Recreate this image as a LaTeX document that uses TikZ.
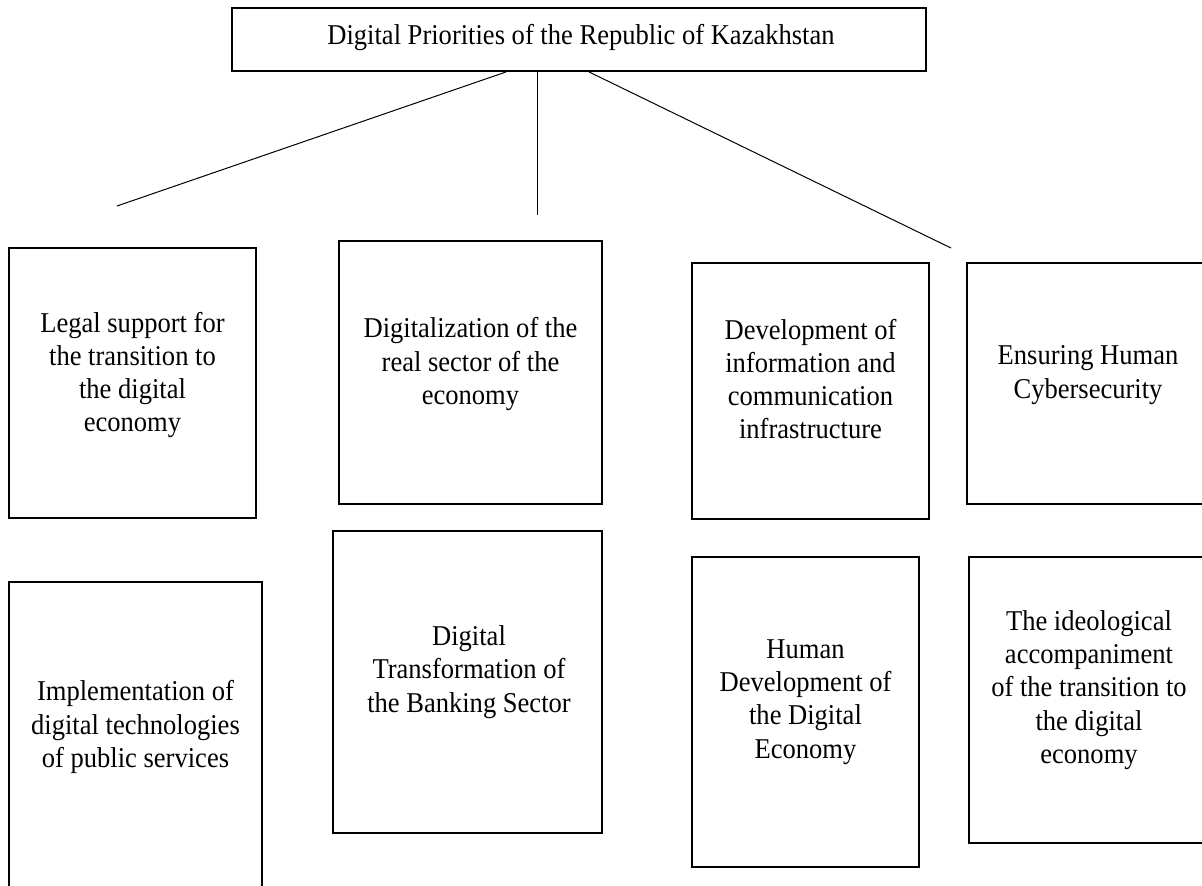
\documentclass[tikz,border=0pt]{standalone}
\usepackage{fontspec}
\setmainfont[FakeStretch=0.925]{Liberation Serif}
\usetikzlibrary{calc}
\tikzset{
  frame/.style={draw, rectangle, line width=1.9pt, inner sep=0pt},
  conn/.style={draw, line width=1pt},
  lbl/.style={align=center, inner sep=0pt, font=\fontsize{28.7}{33.3}\selectfont},
}
\begin{document}
\begin{tikzpicture}[x=1pt,y=-1pt]
\useasboundingbox (0,0) rectangle (1202,886);
\clip (0,0) rectangle (1202,886);
% top box
\node[frame, minimum width=694pt, minimum height=63pt] (top) at (579,39.5) {};
\node[lbl] (ttop) at (581,37) {Digital Priorities of the Republic of Kazakhstan};
% boxes
\node[frame, minimum width=247pt, minimum height=270pt] (b1) at (132.5,383) {};
\node[frame, minimum width=263pt, minimum height=263pt] (b2) at (470.5,372.5) {};
\node[frame, minimum width=237pt, minimum height=256pt] (b3) at (810.5,391) {};
\node[frame, minimum width=242pt, minimum height=241pt] (b4) at (1088,383.5) {};
\node[frame, minimum width=253pt, minimum height=310pt] (b5) at (135.5,737) {};
\node[frame, minimum width=269pt, minimum height=302pt] (b6) at (467.5,682) {};
\node[frame, minimum width=227pt, minimum height=310pt] (b7) at (805.5,712) {};
\node[frame, minimum width=240pt, minimum height=286pt] (b8) at (1089,700) {};
% texts
\node[lbl] (t1) at (132.5,375) {Legal support for\\the transition to\\the digital\\economy};
\node[lbl] (t2) at (470.5,364) {Digitalization of the\\real sector of the\\economy};
\node[lbl] (t3) at (810.5,379) {Development of\\information and\\communication\\infrastructure};
\node[lbl] (t4) at (1088,375) {Ensuring Human\\Cybersecurity};
\node[lbl] (t5) at (135.5,727) {Implementation of\\digital technologies\\of public services};
\node[lbl] (t6) at (469,672) {Digital\\Transformation of\\the Banking Sector};
\node[lbl] (t7) at (805.5,702) {Human\\Development of\\the Digital\\Economy};
\node[lbl] (t8) at (1089,690) {The ideological\\accompaniment\\of the transition to\\the digital\\economy};
% connectors
\coordinate (e1) at (117,206);
\coordinate (e2) at (537,215);
\coordinate (e3) at (951,248);
\draw[conn] ($(top.south west)+(275,0)$) -- (e1);
\draw[conn] (top.south -| e2) -- (e2);
\draw[conn] ($(top.south west)+(358,0)$) -- (e3);
\end{tikzpicture}
\end{document}
